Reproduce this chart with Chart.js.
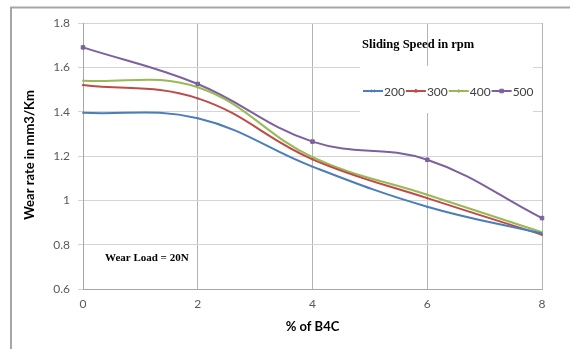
<!DOCTYPE html>
<html>
<head>
<meta charset="utf-8">
<script src="https://cdn.jsdelivr.net/npm/chart.js@4"></script>
<style>
html,body{margin:0;padding:0;background:#fff;}
#wrap{width:570px;height:349px;position:relative;}
</style>
</head>
<body>
<div id="wrap"><canvas id="c" width="570" height="349"></canvas></div>
<script>
const categories = [0, 2, 4, 6, 8];
const s200 = [1.395, 1.37, 1.152, 0.971, 0.85];
const s300 = [1.52, 1.46, 1.185, 1.01, 0.845];
const s400 = [1.54, 1.51, 1.195, 1.025, 0.856];
const s500 = [1.69, 1.525, 1.265, 1.183, 0.92];
const seriesNames = ['200', '300', '400', '500'];
const yTicks = [0.6, 0.8, 1, 1.2, 1.4, 1.6, 1.8];
const xTicks = [0, 2, 4, 6, 8];

const colors = ['#4a7ebb', '#be4b48', '#98b954', '#7d60a0'];
const markers = ['crossRot', 'triangle', 'cross', 'rect'];
const allSeries = [s200, s300, s400, s500];

const datasets = allSeries.map((vals, i) => ({
  label: seriesNames[i],
  data: categories.map((x, j) => ({x: x, y: vals[j]})),
  borderColor: colors[i],
  backgroundColor: colors[i],
  borderWidth: 2,
  pointStyle: markers[i],
  pointRadius: i === 3 ? 2.5 : 1,
  pointBorderWidth: 1,
  tension: 0.4,
  clip: false
}));

const decor = {
  id: 'decor',
  beforeDraw(chart) {
    const ctx = chart.ctx;
    ctx.save();
    ctx.fillStyle = '#fff';
    ctx.fillRect(0, 0, chart.width, chart.height);
    ctx.strokeStyle = '#a6a6a6';
    ctx.lineWidth = 2;
    ctx.beginPath();
    ctx.moveTo(11, 349);
    ctx.lineTo(11, 7.5);
    ctx.lineTo(570, 7.5);
    ctx.stroke();
    ctx.restore();
  },
  beforeDatasetsDraw(chart) {
    const ctx = chart.ctx;
    ctx.save();
    ctx.fillStyle = '#fff';
    ctx.fillRect(360, 66, 173, 47);
    ctx.restore();
  },
  afterDraw(chart) {
    const ctx = chart.ctx;
    const a = chart.chartArea;
    ctx.save();
    ctx.fillStyle = '#000';
    ctx.font = 'bold 13px Lato';
    ctx.textAlign = 'center';
    ctx.textBaseline = 'middle';
    ctx.fillText('% of B4C', (a.left + a.right) / 2, 327);
    ctx.save();
    ctx.translate(30, 155);
    ctx.rotate(-Math.PI / 2);
    ctx.fillText('Wear rate in mm3/Km', 0, 0);
    ctx.restore();
    ctx.font = 'bold 12.5px "Liberation Serif"';
    ctx.textAlign = 'left';
    ctx.fillText('Sliding Speed in rpm', 362, 45);
    ctx.font = 'bold 11px "Liberation Serif"';
    ctx.fillText('Wear Load = 20N', 105, 258);
    ctx.font = '12px Lato';
    let x = 363;
    const y = 91;
    seriesNames.forEach((n, i) => {
      ctx.strokeStyle = colors[i];
      ctx.fillStyle = colors[i];
      ctx.lineWidth = 2;
      ctx.beginPath();
      ctx.moveTo(x, y);
      ctx.lineTo(x + 20, y);
      ctx.stroke();
      ctx.lineWidth = 1;
      Chart.helpers.drawPoint(ctx, {pointStyle: markers[i], radius: i === 3 ? 2.5 : 2, rotation: 0, borderWidth: 1}, x + 10, y);
      ctx.fillStyle = '#404040';
      ctx.textAlign = 'left';
      ctx.fillText(n, x + 21, y + 1);
      x += 21 + ctx.measureText(n).width + 1;
    });
    ctx.restore();
  }
};

new Chart(document.getElementById('c'), {
  type: 'line',
  data: { datasets: datasets },
  options: {
    responsive: false,
    animation: false,
    layout: { padding: { left: 0, right: 28, top: 23, bottom: 0 } },
    plugins: { legend: { display: false }, tooltip: { enabled: false } },
    scales: {
      x: {
        type: 'linear',
        min: 0, max: 8,
        afterFit(s) { s.height = 60; },
        afterBuildTicks(s) { s.ticks = xTicks.map(v => ({value: v})); },
        grid: { color: '#b4b4b4', lineWidth: 1, drawTicks: false },
        border: { color: '#a6a6a6', width: 1 },
        ticks: { color: '#595959', font: { family: 'Lato', size: 12 }, padding: 8 }
      },
      y: {
        min: 0.6, max: 1.8,
        afterFit(s) { s.width = 83; },
        afterBuildTicks(s) { s.ticks = yTicks.map(v => ({value: v})); },
        grid: { color: '#d4d4d4', lineWidth: 1, tickLength: 5 },
        border: { color: '#a6a6a6', width: 1 },
        ticks: { color: '#595959', font: { family: 'Lato', size: 12 }, padding: 8,
          callback: v => String(Math.round(v * 10) / 10) }
      }
    }
  },
  plugins: [decor]
});
</script>
</body>
</html>
